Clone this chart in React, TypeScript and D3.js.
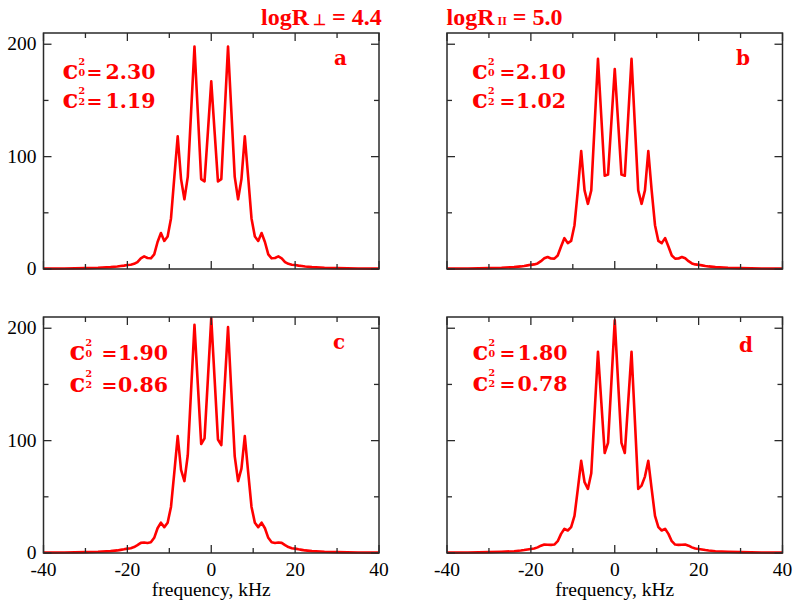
import React from 'react';
import * as d3 from 'd3';

// ---------- data ----------
const freqs = [
  -40, -35, -30, -27, -24, -22.4, -21.6, -20.8,
  -20, -19.2, -18.4, -17.6, -16.8, -16, -15.2, -14.4, -13.6, -12.8, -12, -11.2, -10.4, -9.6, -8.8,
  -8, -7.2, -6.4, -5.6, -4.8, -4, -3.2, -2.4, -1.6, -0.8, 0,
  0.8, 1.6, 2.4, 3.2, 4, 4.8, 5.6, 6.4, 7.2, 8,
  8.8, 9.6, 10.4, 11.2, 12, 12.8, 13.6, 14.4, 15.2, 16, 16.8, 17.6, 18.4, 19.2, 20,
  20.8, 21.6, 22.4, 24, 27, 30, 35, 40,
];

const spectrumA = [
  0.3, 0.5, 0.8, 1.1, 1.7, 2.2, 2.6, 3.0,
  3.5, 3.8, 4.6, 6.2, 9.5, 11.2, 9.8, 9.5, 13, 24, 32, 25, 29, 45, 82,
  118, 80, 62, 82, 140, 198, 139, 80, 78, 122, 167,
  122, 78, 80, 139, 198, 140, 82, 62, 80, 118,
  82, 45, 29, 25, 32, 24, 13, 9.5, 9.8, 11.2, 9.5, 6.2, 4.6, 3.8, 3.5,
  3.0, 2.6, 2.2, 1.7, 1.1, 0.8, 0.5, 0.3,
];

const spectrumB = [
  0.3, 0.5, 0.8, 1.1, 1.7, 2.3, 2.7, 3.2,
  3.7, 4.1, 5.0, 7.0, 9.5, 10.7, 9.4, 9.2, 12, 20, 27.5, 23, 25, 39, 70,
  105, 70, 58, 70, 128, 187, 135, 83, 84, 131, 178,
  131, 84, 83, 135, 187, 128, 70, 58, 70, 105,
  70, 39, 25, 23, 27.5, 20, 12, 9.2, 9.4, 10.7, 9.5, 7.0, 5.0, 4.1, 3.7,
  3.2, 2.7, 2.3, 1.7, 1.1, 0.8, 0.5, 0.3,
];

const spectrumC = [
  0.3, 0.5, 0.8, 1.1, 1.7, 2.3, 2.8, 3.3,
  3.9, 4.3, 5.3, 7.0, 9.0, 9.3, 8.9, 9.5, 13.5, 22, 27, 23, 27, 41, 72,
  104, 74, 64, 87, 145, 203, 150, 97, 102, 155, 209,
  155, 101, 96, 149, 201, 143, 86, 64, 75, 104,
  72, 41, 27, 23, 27, 22, 13.5, 9.5, 8.9, 9.3, 9.0, 7.0, 5.3, 4.3, 3.9,
  3.3, 2.8, 2.3, 1.7, 1.1, 0.8, 0.5, 0.3,
];

const spectrumD = [
  0.3, 0.5, 0.8, 1.1, 1.6, 2.2, 2.6, 3.1,
  3.6, 4.0, 5.0, 6.5, 7.5, 7.4, 7.2, 7.5, 10.5, 17, 21.5, 20, 23, 33, 57,
  82, 63, 57, 71, 125, 179, 134, 89, 98, 152, 207,
  152, 98, 89, 134, 179, 118, 57, 60, 68, 82,
  57, 33, 23, 20, 21.5, 17, 10.5, 7.5, 7.2, 7.4, 7.5, 6.5, 5.0, 4.0, 3.6,
  3.1, 2.6, 2.2, 1.6, 1.1, 0.8, 0.5, 0.3,
];

const panelLetters = ['a', 'b', 'c', 'd'];
const c0Values = ['2.30', '2.10', '1.90', '1.80'];
const c2Values = ['1.19', '1.02', '0.86', '0.78'];
const subscripts = ['0', '2'];

const xMajorTicks = [-40, -20, 0, 20, 40];
const xMinorTicks = [-30, -10, 10, 30];
const xTickLabels = ['-40', '-20', '0', '20', '40'];
const yMajorTicks = [0, 100, 200];
const yMinorTicks = [50, 150];
const yTickLabels = ['0', '100', '200'];
const xDomain = [-40, 40];
const yDomain = [0, 210];
const xAxisLabel = 'frequency, kHz';

// ---------- layout ----------
const RED = '#ff0000';
const FRAME = '#2a2a2a';
const serif = "'Liberation Serif', 'Times New Roman', serif";
const boldSerif = "'DejaVu Serif', serif";

const panels = [
  { data: spectrumA, left: 43.5, right: 379, top: 33, bottom: 269, yLabels: true, xLabels: false,
    ann: { cx: 62.5, eqx: 94.5, valx: 105.5, y1: 79.3, y2: 108.3 }, letter: { x: 334, y: 65 } },
  { data: spectrumB, left: 447, right: 782.5, top: 33, bottom: 269, yLabels: false, xLabels: false,
    ann: { cx: 472, eqx: 507.5, valx: 516, y1: 79.3, y2: 108.3 }, letter: { x: 736, y: 65 } },
  { data: spectrumC, left: 43.5, right: 379, top: 317, bottom: 553, yLabels: true, xLabels: true,
    ann: { cx: 69.5, eqx: 109.5, valx: 118, y1: 360, y2: 391.5 }, letter: { x: 333, y: 349 } },
  { data: spectrumD, left: 447, right: 782.5, top: 317, bottom: 553, yLabels: false, xLabels: true,
    ann: { cx: 472.5, eqx: 507.5, valx: 517.5, y1: 360, y2: 390.5 }, letter: { x: 739, y: 352 } },
];

const MAJOR = 8;
const MINOR = 5;

function Panel({ p, i }: { p: any; i: number }) {
  const x = d3.scaleLinear().domain(xDomain).range([p.left, p.right]);
  const y = d3.scaleLinear().domain(yDomain).range([p.bottom, p.top]);
  const line = d3
    .line<number>()
    .x((_, k) => x(freqs[k]))
    .y((v) => y(v));
  const pathD = line(p.data) || '';

  const ticks: React.ReactNode[] = [];
  const addX = (v: number, len: number, key: string) => {
    const xx = x(v);
    ticks.push(<line key={key + 'b'} x1={xx} x2={xx} y1={p.bottom} y2={p.bottom - len} />);
    ticks.push(<line key={key + 't'} x1={xx} x2={xx} y1={p.top} y2={p.top + len} />);
  };
  const addY = (v: number, len: number, key: string) => {
    const yy = y(v);
    ticks.push(<line key={key + 'l'} x1={p.left} x2={p.left + len} y1={yy} y2={yy} />);
    ticks.push(<line key={key + 'r'} x1={p.right} x2={p.right - len} y1={yy} y2={yy} />);
  };
  xMajorTicks.forEach((v, k) => addX(v, MAJOR, 'xM' + k));
  xMinorTicks.forEach((v, k) => addX(v, MINOR, 'xm' + k));
  yMajorTicks.forEach((v, k) => addY(v, MAJOR, 'yM' + k));
  yMinorTicks.forEach((v, k) => addY(v, MINOR, 'ym' + k));

  const a = p.ann;
  const lines = [
    { val: c0Values[i], y: a.y1, sub: subscripts[0] },
    { val: c2Values[i], y: a.y2, sub: subscripts[1] },
  ];

  return (
    <g>
      <path d={pathD} fill="none" stroke={RED} strokeWidth={2.6} strokeLinejoin="round" />
      <g stroke={FRAME} strokeWidth={1.3}>{ticks}</g>
      <rect x={p.left} y={p.top} width={p.right - p.left} height={p.bottom - p.top}
        fill="none" stroke={FRAME} strokeWidth={1.5} />
      {p.yLabels &&
        yMajorTicks.map((v, k) => (
          <text key={'yl' + k} x={p.left - 7} y={y(v) + 6} textAnchor="end"
            fontFamily={serif} fontSize={19.5} fill="#000">{yTickLabels[k]}</text>
        ))}
      {p.xLabels &&
        xMajorTicks.map((v, k) => (
          <text key={'xl' + k} x={x(v)} y={p.bottom + 22.5} textAnchor="middle"
            fontFamily={serif} fontSize={19.5} fill="#000">{xTickLabels[k]}</text>
        ))}
      {p.xLabels && (
        <text x={x(0)} y={p.bottom + 43} textAnchor="middle" fontFamily={serif}
          fontSize={19.5} fill="#000">{xAxisLabel}</text>
      )}
      {lines.map((l, k) => (
        <g key={'ann' + k} fill={RED} fontFamily={boldSerif} fontWeight="bold">
          <text x={a.cx} y={l.y} fontSize={26}>c</text>
          <text x={a.cx + 16} y={l.y - 14.5} fontSize={9.5}>2</text>
          <text x={a.cx + 16} y={l.y - 3.5} fontSize={9.5}>{l.sub}</text>
          <text x={a.eqx} y={l.y} fontSize={19} textAnchor="middle">=</text>
          <text x={a.valx} y={l.y} fontSize={20.5}>{l.val}</text>
        </g>
      ))}
      <text x={p.letter.x} y={p.letter.y} fill={RED} fontFamily={boldSerif} fontWeight="bold"
        fontSize={20}>{panelLetters[i]}</text>
    </g>
  );
}

export default function App() {
  return (
    <svg width={800} height={610} style={{ position: 'absolute', left: 0, top: 0, background: '#fff' }}>
      <rect x={0} y={0} width={800} height={610} fill="#fff" />
      {panels.map((p, i) => (
        <Panel key={i} p={p} i={i} />
      ))}
      <text x={261} y={25} fill={RED} fontFamily={serif} fontWeight="bold" fontSize={24}>
        logR
        <tspan fontSize={15} dx={4}>⊥</tspan>
        <tspan> = 4.4</tspan>
      </text>
      <text x={446.5} y={25} fill={RED} fontFamily={serif} fontWeight="bold" fontSize={24}>
        logR
        <tspan fontSize={12} dx={3}>II</tspan>
        <tspan> = 5.0</tspan>
      </text>
    </svg>
  );
}
